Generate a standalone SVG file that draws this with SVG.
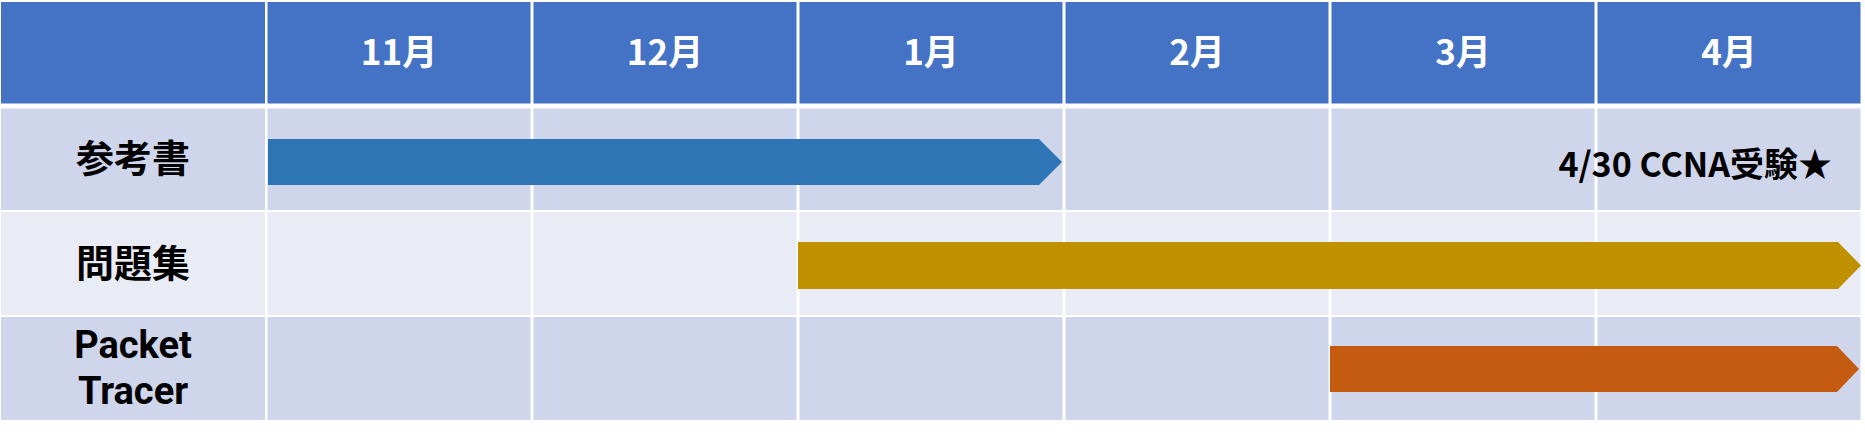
<svg xmlns="http://www.w3.org/2000/svg" width="1865" height="437" viewBox="0 0 1865 437">
  <style>
    .hd { fill: #4472C4; }
    .r1 { fill: #CFD5EA; }
    .r2 { fill: #E9EBF5; }
    .ht { font-family: "Noto Sans CJK JP", "Liberation Sans", sans-serif; font-weight: bold; font-size: 35px; fill: #FFFFFF; text-anchor: middle; }
    .lt { font-family: "Noto Sans CJK JP", "Liberation Sans", sans-serif; font-weight: bold; font-size: 38px; fill: #000000; text-anchor: middle; }
    .lt2 { font-family: Roboto, "Liberation Sans", sans-serif; font-weight: bold; font-size: 38px; fill: #000000; text-anchor: middle; }
    .nt { font-family: "Noto Sans CJK JP", "Liberation Sans", sans-serif; font-weight: bold; font-size: 34px; fill: #000000; text-anchor: end; }
  </style>
  <rect x="0" y="0" width="1865" height="437" fill="#FFFFFF"/>

  <g id="grid">
    <!-- header row -->
    <rect class="hd" x="1" y="2" width="264" height="101.5"/>
    <rect class="hd" x="267.5" y="2" width="263" height="101.5"/>
    <rect class="hd" x="533.5" y="2" width="263" height="101.5"/>
    <rect class="hd" x="799.5" y="2" width="263" height="101.5"/>
    <rect class="hd" x="1065.5" y="2" width="263" height="101.5"/>
    <rect class="hd" x="1331.5" y="2" width="263" height="101.5"/>
    <rect class="hd" x="1597.5" y="2" width="263" height="101.5"/>
    <!-- row 1 -->
    <rect class="r1" x="1" y="108.5" width="264" height="101.5"/>
    <rect class="r1" x="267.5" y="108.5" width="263" height="101.5"/>
    <rect class="r1" x="533.5" y="108.5" width="263" height="101.5"/>
    <rect class="r1" x="799.5" y="108.5" width="263" height="101.5"/>
    <rect class="r1" x="1065.5" y="108.5" width="263" height="101.5"/>
    <rect class="r1" x="1331.5" y="108.5" width="263" height="101.5"/>
    <rect class="r1" x="1597.5" y="108.5" width="263" height="101.5"/>
    <!-- row 2 -->
    <rect class="r2" x="1" y="212" width="264" height="103"/>
    <rect class="r2" x="267.5" y="212" width="263" height="103"/>
    <rect class="r2" x="533.5" y="212" width="263" height="103"/>
    <rect class="r2" x="799.5" y="212" width="263" height="103"/>
    <rect class="r2" x="1065.5" y="212" width="263" height="103"/>
    <rect class="r2" x="1331.5" y="212" width="263" height="103"/>
    <rect class="r2" x="1597.5" y="212" width="263" height="103"/>
    <!-- row 3 -->
    <rect class="r1" x="1" y="317" width="264" height="103"/>
    <rect class="r1" x="267.5" y="317" width="263" height="103"/>
    <rect class="r1" x="533.5" y="317" width="263" height="103"/>
    <rect class="r1" x="799.5" y="317" width="263" height="103"/>
    <rect class="r1" x="1065.5" y="317" width="263" height="103"/>
    <rect class="r1" x="1331.5" y="317" width="263" height="103"/>
    <rect class="r1" x="1597.5" y="317" width="263" height="103"/>
  </g>

  <g id="header-labels">
    <text class="ht" x="399" y="65">11月</text>
    <text class="ht" x="665" y="65">12月</text>
    <text class="ht" x="931" y="65">1月</text>
    <text class="ht" x="1197" y="65">2月</text>
    <text class="ht" x="1463" y="65">3月</text>
    <text class="ht" x="1729" y="65">4月</text>
  </g>

  <g id="row-labels">
    <text class="lt" x="133" y="172">参考書</text>
    <text class="lt" x="133" y="277">問題集</text>
    <text class="lt2" x="133" y="358">Packet</text>
    <text class="lt2" x="133" y="404">Tracer</text>
  </g>

  <g id="bars">
    <g id="bar-sankousho">
      <polygon points="268,139 1039,139 1062,162 1039,185 268,185" fill="#2E75B6"/>
    </g>
    <g id="bar-mondaishu">
      <polygon points="798,242 1838,242 1861,265.5 1838,289 798,289" fill="#BF9000"/>
    </g>
    <g id="bar-packet-tracer">
      <polygon points="1330,346 1837,346 1859,369 1837,392 1330,392" fill="#C55A11"/>
    </g>
  </g>

  <g id="exam-note">
    <text class="nt" x="1832" y="177">4/30 CCNA受験★</text>
  </g>
</svg>
